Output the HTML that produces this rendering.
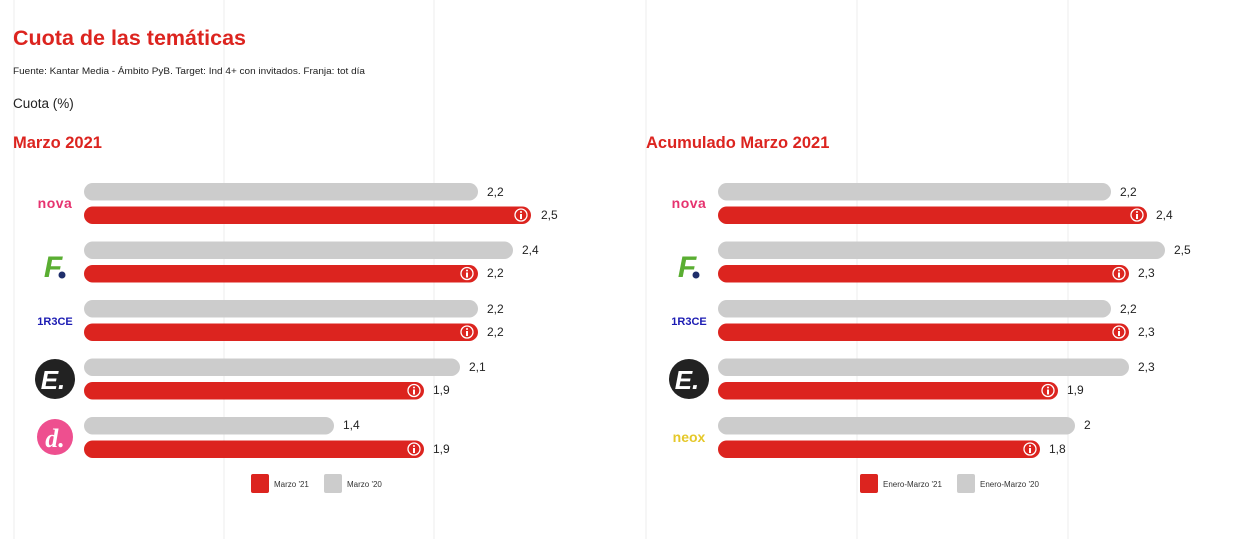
<!DOCTYPE html>
<html><head><meta charset="utf-8"><style>
html,body{margin:0;padding:0;background:#fff;}
svg{display:block;font-family:"Liberation Sans",Arial,sans-serif;}
</style></head><body>
<svg width="1249" height="539" viewBox="0 0 1249 539" xmlns="http://www.w3.org/2000/svg">
<g stroke="#efefef" stroke-width="1.2">
<line x1="14" y1="0" x2="14" y2="539"/><line x1="224" y1="0" x2="224" y2="539"/><line x1="434" y1="0" x2="434" y2="539"/>
<line x1="646" y1="0" x2="646" y2="539"/><line x1="857" y1="0" x2="857" y2="539"/><line x1="1068" y1="0" x2="1068" y2="539"/>
</g>
<text x="13" y="45" font-size="21.5" font-weight="bold" fill="#dc241f">Cuota de las temáticas</text>
<text x="13" y="74" font-size="9" fill="#222" textLength="352" lengthAdjust="spacingAndGlyphs">Fuente: Kantar Media - Ámbito PyB. Target: Ind 4+ con invitados. Franja: tot día</text>
<text x="13" y="108" font-size="13.5" fill="#222">Cuota (%)</text>
<text x="13" y="148" font-size="16.5" font-weight="bold" fill="#dc241f">Marzo 2021</text>
<text x="646" y="148" font-size="16.5" font-weight="bold" fill="#dc241f">Acumulado Marzo 2021</text>

<defs>
<g id="info"><circle r="6" fill="none" stroke="#fff" stroke-width="1.3"/><circle cy="-3" r="1" fill="#fff"/><rect x="-1" y="-1" width="2" height="5" fill="#fff"/></g>
</defs>

<g font-size="12" fill="#222">
<rect x="84" y="183" width="394" height="17.5" rx="8.75" fill="#cccccc"/><text x="487" y="196">2,2</text>
<rect x="84" y="206.5" width="447" height="17.5" rx="8.75" fill="#dc241f"/><use href="#info" x="521" y="215"/><text x="541" y="219">2,5</text>

<rect x="84" y="241.5" width="429" height="17.5" rx="8.75" fill="#cccccc"/><text x="522" y="254">2,4</text>
<rect x="84" y="265" width="394" height="17.5" rx="8.75" fill="#dc241f"/><use href="#info" x="467" y="273.5"/><text x="487" y="277">2,2</text>

<rect x="84" y="300" width="394" height="17.5" rx="8.75" fill="#cccccc"/><text x="487" y="313">2,2</text>
<rect x="84" y="323.5" width="394" height="17.5" rx="8.75" fill="#dc241f"/><use href="#info" x="467" y="332"/><text x="487" y="336">2,2</text>

<rect x="84" y="358.5" width="376" height="17.5" rx="8.75" fill="#cccccc"/><text x="469" y="371">2,1</text>
<rect x="84" y="382" width="340" height="17.5" rx="8.75" fill="#dc241f"/><use href="#info" x="414" y="390.5"/><text x="433" y="394">1,9</text>

<rect x="84" y="417" width="250" height="17.5" rx="8.75" fill="#cccccc"/><text x="343" y="429">1,4</text>
<rect x="84" y="440.5" width="340" height="17.5" rx="8.75" fill="#dc241f"/><use href="#info" x="414" y="449"/><text x="433" y="453">1,9</text>

<rect x="718" y="183" width="393" height="17.5" rx="8.75" fill="#cccccc"/><text x="1120" y="196">2,2</text>
<rect x="718" y="206.5" width="429" height="17.5" rx="8.75" fill="#dc241f"/><use href="#info" x="1137" y="215"/><text x="1156" y="219">2,4</text>

<rect x="718" y="241.5" width="447" height="17.5" rx="8.75" fill="#cccccc"/><text x="1174" y="254">2,5</text>
<rect x="718" y="265" width="411" height="17.5" rx="8.75" fill="#dc241f"/><use href="#info" x="1119" y="273.5"/><text x="1138" y="277">2,3</text>

<rect x="718" y="300" width="393" height="17.5" rx="8.75" fill="#cccccc"/><text x="1120" y="313">2,2</text>
<rect x="718" y="323.5" width="411" height="17.5" rx="8.75" fill="#dc241f"/><use href="#info" x="1119" y="332"/><text x="1138" y="336">2,3</text>

<rect x="718" y="358.5" width="411" height="17.5" rx="8.75" fill="#cccccc"/><text x="1138" y="371">2,3</text>
<rect x="718" y="382" width="340" height="17.5" rx="8.75" fill="#dc241f"/><use href="#info" x="1048" y="390.5"/><text x="1067" y="394">1,9</text>

<rect x="718" y="417" width="357" height="17.5" rx="8.75" fill="#cccccc"/><text x="1084" y="429">2</text>
<rect x="718" y="440.5" width="322" height="17.5" rx="8.75" fill="#dc241f"/><use href="#info" x="1030" y="449"/><text x="1049" y="453">1,8</text>
</g>

<g font-weight="bold">
<text x="55" y="208" font-size="14" fill="#e6336f" text-anchor="middle" letter-spacing="0.5">nova</text>
<text x="53" y="277" font-size="30" font-style="italic" fill="#5aae32" text-anchor="middle">F</text><circle cx="62" cy="275" r="3.5" fill="#1f2e6b"/>
<text x="55" y="325" font-size="11" fill="#1b1bb3" text-anchor="middle">1R3CE</text>
<circle cx="55" cy="379" r="20" fill="#222"/><text x="53" y="389" font-size="26" font-style="italic" fill="#fff" text-anchor="middle">E.</text>
<circle cx="55" cy="437" r="18" fill="#ee4f8f"/><text x="55" y="447" font-size="26" font-style="italic" font-family="Liberation Serif,serif" fill="#fff" text-anchor="middle">d.</text>
<text x="689" y="208" font-size="14" fill="#e6336f" text-anchor="middle" letter-spacing="0.5">nova</text>
<text x="687" y="277" font-size="30" font-style="italic" fill="#5aae32" text-anchor="middle">F</text><circle cx="696" cy="275" r="3.5" fill="#1f2e6b"/>
<text x="689" y="325" font-size="11" fill="#1b1bb3" text-anchor="middle">1R3CE</text>
<circle cx="689" cy="379" r="20" fill="#222"/><text x="687" y="389" font-size="26" font-style="italic" fill="#fff" text-anchor="middle">E.</text>
<text x="689" y="442" font-size="14" fill="#e5c82a" text-anchor="middle">neox</text>
</g>

<g font-size="8" fill="#333">
<rect x="251" y="474" width="18" height="19" rx="2" fill="#dc241f"/><text x="274" y="487">Marzo '21</text>
<rect x="324" y="474" width="18" height="19" rx="2" fill="#cccccc"/><text x="347" y="487">Marzo '20</text>
<rect x="860" y="474" width="18" height="19" rx="2" fill="#dc241f"/><text x="883" y="487">Enero-Marzo '21</text>
<rect x="957" y="474" width="18" height="19" rx="2" fill="#cccccc"/><text x="980" y="487">Enero-Marzo '20</text>
</g>
</svg>
</body></html>
